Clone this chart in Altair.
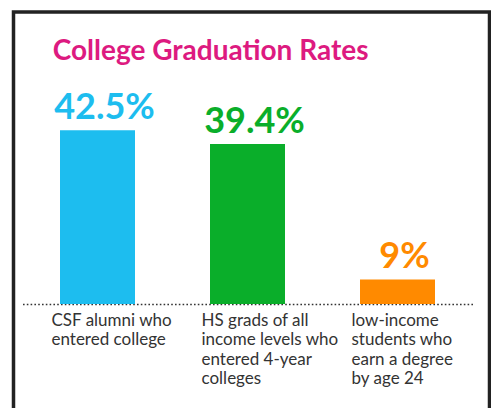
import altair as alt
import pandas as pd

categories = [
    "CSF alumni who\nentered college",
    "HS grads  of all\nincome levels who\nentered 4-year\ncolleges",
    "low-income\nstudents who\nearn a degree\nby age 24",
]
rates = [42.5, 39.4, 9.0]
labels = ["42.5%", "39.4%", "9%"]
colors = ["#1DBDEF", "#0AAE2A", "#FF8A00"]

df = pd.DataFrame({"category": categories, "rate": rates, "label": labels})

FONT = "Lato"
BASE = 3.5

x_enc = alt.X(
    "category:N",
    sort=categories,
    scale=alt.Scale(paddingInner=0.5, paddingOuter=0.25),
    axis=alt.Axis(
        title=None,
        ticks=False,
        tickSize=0,
        domain=True,
        domainColor="#333333",
        domainWidth=1.6,
        domainDash=[1.6, 2.2],
        labelAngle=0,
        labelAlign="left",
        labelBaseline="top",
        labelOffset=-46,
        labelPadding=8,
        labelFont=FONT,
        labelFontSize=17,
        labelColor="#333333",
        labelLineHeight=19.5,
        labelExpr="split(datum.label, '\\n')",
        labelLimit=200,
    ),
)
y_scale = alt.Scale(domain=[BASE, 56], zero=False, nice=False)
color_enc = alt.Color("category:N", sort=categories,
                      scale=alt.Scale(domain=categories, range=colors), legend=None)

base = alt.Chart(df)

bars = base.mark_bar().encode(
    x=x_enc,
    y=alt.Y("rate:Q", scale=y_scale, axis=None),
    y2=alt.datum(BASE),
    color=color_enc,
)

values = base.mark_text(
    font=FONT, fontSize=36, fontWeight="bold", align="center",
    baseline="alphabetic", dy=-11, dx=7,
).encode(
    x=alt.X("category:N", sort=categories),
    y=alt.Y("rate:Q", scale=y_scale),
    text="label:N",
    color=color_enc,
)

border = alt.Chart(alt.Data(values=[{}])).mark_rect(
    fill=None, stroke="#222222", strokeWidth=3.5
).encode(
    x=alt.value(-9), x2=alt.value(467),
    y=alt.value(-58), y2=alt.value(345),
)

chart = alt.layer(border, bars, values).properties(
    width=450,
    height=234,
    padding={"left": 22.5, "right": 18.5, "top": 70, "bottom": 104},
    autosize=alt.AutoSizeParams(type="none"),
    title=alt.TitleParams(
        "College Graduation Rates",
        anchor="start",
        font=FONT,
        fontSize=28,
        fontWeight="bold",
        color="#DD1A80",
        dx=41,
        dy=66,
        offset=10,
    ),
    background="white",
).configure_view(stroke=None)

chart.save("out.html", embed_options={"renderer": "svg", "actions": False})
